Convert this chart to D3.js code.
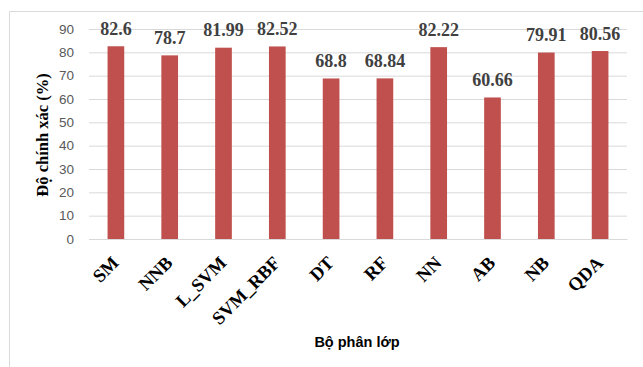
<!DOCTYPE html>
<html>
<head>
<meta charset="utf-8">
<script src="https://cdn.jsdelivr.net/npm/d3@7"></script>
<style>
  html, body { margin: 0; padding: 0; background: #fff; }
  svg { display: block; }
</style>
</head>
<body>
<script>
const categories = ["SM", "NNB", "L_SVM", "SVM_RBF", "DT", "RF", "NN", "AB", "NB", "QDA"];
const accuracy = [82.6, 78.7, 81.99, 82.52, 68.8, 68.84, 82.22, 60.66, 79.91, 80.56];
const yTicks = [0, 10, 20, 30, 40, 50, 60, 70, 80, 90];
const yTitle = "Độ chính xác (%)";
const xTitle = "Bộ phân lớp";

const W = 643, H = 367;
const margin = { left: 89, right: 16, top: 29, bottom: 128 };

const svg = d3.select("body").append("svg").attr("width", W).attr("height", H);

// outer frame (top & left edges visible)
svg.append("path")
  .attr("d", `M9.5,${H} L9.5,11.5 L${W},11.5`)
  .attr("fill", "none").attr("stroke", "#d9d9d9").attr("stroke-width", 1);

const x = d3.scaleBand().domain(categories).range([margin.left, W - margin.right]).paddingInner(0.69).paddingOuter(0.345);
const y = d3.scaleLinear().domain([0, 90]).range([H - margin.bottom, margin.top]);

// gridlines
const yAxis = d3.axisLeft(y).tickValues(yTicks).tickSize(-(W - margin.right - margin.left)).tickPadding(15);
const gy = svg.append("g").attr("transform", `translate(${margin.left},0)`).call(yAxis);
gy.select(".domain").remove();
gy.selectAll(".tick line").attr("stroke", "#d9d9d9").attr("stroke-width", 1);
gy.selectAll(".tick text")
  .attr("fill", "#595959")
  .style("font-family", "'Liberation Sans', Arial, sans-serif")
  .style("font-size", "13.5px");

// bars
svg.append("g").selectAll("rect").data(categories).join("rect")
  .attr("x", d => x(d))
  .attr("width", x.bandwidth())
  .attr("y", (d, i) => y(accuracy[i]))
  .attr("height", (d, i) => y(0) - y(accuracy[i]))
  .attr("fill", "#c0504d");

// value labels
svg.append("g").selectAll("text").data(categories).join("text")
  .attr("x", d => x(d) + x.bandwidth() / 2)
  .attr("y", (d, i) => y(accuracy[i]) - 11.5)
  .attr("text-anchor", "middle")
  .attr("fill", "#404040")
  .style("font-family", "'Liberation Serif', 'Times New Roman', serif")
  .style("font-weight", "bold")
  .style("font-size", "18px")
  .text((d, i) => accuracy[i]);

// x axis line
const xAxis = d3.axisBottom(x).tickSize(0).tickPadding(0);
const gx = svg.append("g").attr("transform", `translate(0,${y(0)})`).call(xAxis);
gx.select(".domain").attr("stroke", "#d9d9d9");
gx.selectAll(".tick text")
  .attr("text-anchor", "end")
  .attr("fill", "#000")
  .attr("dy", 0)
  .attr("y", 0)
  .attr("transform", "translate(4,25) rotate(-45)")
  .style("font-family", "'Liberation Serif', 'Times New Roman', serif")
  .style("font-weight", "bold")
  .style("font-size", "18.5px");

// y title
svg.append("text")
  .attr("transform", `translate(48,${(y(0) + y(90)) / 2 + 1}) rotate(-90)`)
  .attr("text-anchor", "middle")
  .attr("fill", "#000")
  .style("font-family", "'Liberation Serif', 'Times New Roman', serif")
  .style("font-weight", "bold")
  .style("font-size", "16.5px")
  .text(yTitle);

// x title
svg.append("text")
  .attr("x", 357)
  .attr("y", 347)
  .attr("text-anchor", "middle")
  .attr("fill", "#000")
  .style("font-family", "'Liberation Sans', Arial, sans-serif")
  .style("font-weight", "bold")
  .style("font-size", "14.5px")
  .text(xTitle);
</script>
</body>
</html>
